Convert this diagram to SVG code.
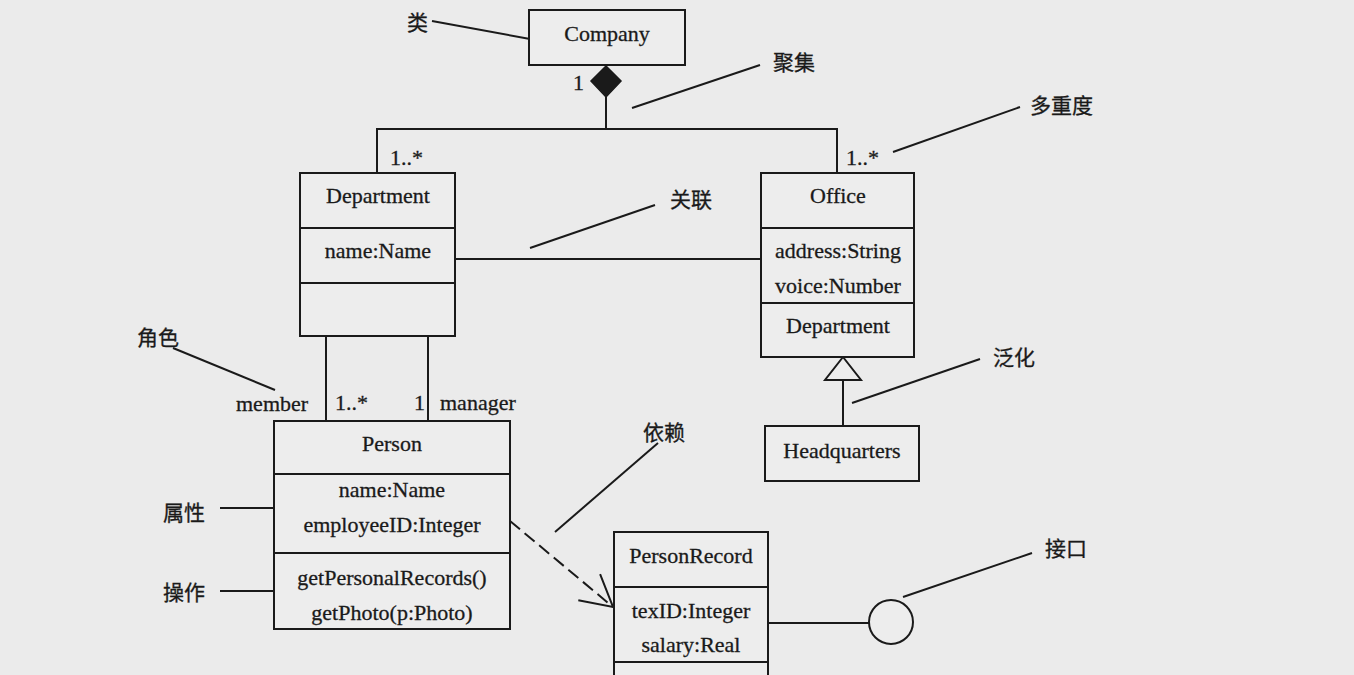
<svg xmlns="http://www.w3.org/2000/svg" width="1354" height="675" viewBox="0 0 1354 675">
<defs>
<style>
.bx{fill:#ededed;stroke:#1a1a1a;stroke-width:2}
.ln{fill:none;stroke:#1a1a1a;stroke-width:2}
.t{font-family:"Liberation Serif","Times New Roman",serif;font-size:22px;fill:#1a1a1a;stroke:#1a1a1a;stroke-width:0.3;text-anchor:middle}
.tl{font-family:"Liberation Serif","Times New Roman",serif;font-size:22px;fill:#1a1a1a;stroke:#1a1a1a;stroke-width:0.3}
.cn{font-family:"Noto Sans CJK SC","Noto Sans",sans-serif;font-size:21px;fill:#1a1a1a;stroke:#1a1a1a;stroke-width:0.3}
</style>
<marker id="open" markerUnits="userSpaceOnUse" markerWidth="40" markerHeight="40" viewBox="-34 -20 38 40" refX="0" refY="0" orient="auto">
<path d="M-31,-17 L0,0 L-31,17" fill="none" stroke="#1a1a1a" stroke-width="2"/>
</marker>
</defs>
<rect width="1354" height="675" fill="#ebebeb"/>

<g id="connectors">
<polygon points="606,66 621,81 606,97 591,81" fill="#1a1a1a" stroke="#1a1a1a" stroke-width="1.5"/>
<polyline class="ln" points="606,97 606,129"/>
<polyline class="ln" points="377,173 377,129 837,129 837,173"/>
<line class="ln" x1="455" y1="259" x2="761" y2="259"/>
<line class="ln" x1="326" y1="336" x2="326" y2="421"/>
<line class="ln" x1="428" y1="336" x2="428" y2="421"/>
<polygon points="843,357 861,380 825,380" fill="#ededed" stroke="#1a1a1a" stroke-width="2"/>
<line class="ln" x1="843" y1="380" x2="843" y2="426"/>
<line class="ln" x1="510" y1="521" x2="613" y2="607" stroke-dasharray="13,6" marker-end="url(#open)"/>
<line class="ln" x1="768" y1="623" x2="869" y2="623"/>
<circle cx="891" cy="622" r="22" class="bx"/>
<text class="tl" x="573" y="90">1</text>
<text class="tl" x="390" y="165">1..*</text>
<text class="tl" x="846" y="165">1..*</text>
<text class="tl" x="236" y="411">member</text>
<text class="tl" x="335" y="410">1..*</text>
<text class="tl" x="414" y="410">1</text>
<text class="tl" x="440" y="410">manager</text>
</g>

<g id="annotations">
<text class="cn" x="407" y="30">类</text>
<line class="ln" x1="432" y1="21" x2="530" y2="39"/>
<text class="cn" x="773" y="70">聚集</text>
<line class="ln" x1="632" y1="108" x2="760" y2="65"/>
<text class="cn" x="1030" y="113">多重度</text>
<line class="ln" x1="893" y1="152" x2="1020" y2="107"/>
<text class="cn" x="670" y="207">关联</text>
<line class="ln" x1="530" y1="248" x2="655" y2="205"/>
<text class="cn" x="993" y="365">泛化</text>
<line class="ln" x1="852" y1="403" x2="980" y2="359"/>
<text class="cn" x="137" y="345">角色</text>
<line class="ln" x1="173" y1="348" x2="275" y2="390"/>
<text class="cn" x="163" y="520">属性</text>
<line class="ln" x1="220" y1="508" x2="274" y2="508"/>
<text class="cn" x="163" y="600">操作</text>
<line class="ln" x1="220" y1="591" x2="274" y2="591"/>
<text class="cn" x="643" y="440">依赖</text>
<line class="ln" x1="555" y1="532" x2="658" y2="443"/>
<text class="cn" x="1045" y="556">接口</text>
<line class="ln" x1="903" y1="597" x2="1032" y2="553"/>
</g>

<g id="Company">
<rect class="bx" x="529" y="10" width="156" height="55"/>
<text class="t" x="607" y="41">Company</text>
</g>

<g id="Department">
<rect class="bx" x="300" y="173" width="155" height="163"/>
<line class="ln" x1="300" y1="228" x2="455" y2="228"/>
<line class="ln" x1="300" y1="283" x2="455" y2="283"/>
<text class="t" x="378" y="203">Department</text>
<text class="t" x="378" y="258">name:Name</text>
</g>

<g id="Office">
<rect class="bx" x="761" y="173" width="153" height="184"/>
<line class="ln" x1="761" y1="228" x2="914" y2="228"/>
<line class="ln" x1="761" y1="303" x2="914" y2="303"/>
<text class="t" x="838" y="203">Office</text>
<text class="t" x="838" y="258">address:String</text>
<text class="t" x="838" y="293">voice:Number</text>
<text class="t" x="838" y="333">Department</text>
</g>

<g id="Headquarters">
<rect class="bx" x="765" y="426" width="154" height="55"/>
<text class="t" x="842" y="458">Headquarters</text>
</g>

<g id="Person">
<rect class="bx" x="274" y="421" width="236" height="208"/>
<line class="ln" x1="274" y1="474" x2="510" y2="474"/>
<line class="ln" x1="274" y1="553" x2="510" y2="553"/>
<text class="t" x="392" y="451">Person</text>
<text class="t" x="392" y="497">name:Name</text>
<text class="t" x="392" y="532">employeeID:Integer</text>
<text class="t" x="392" y="585">getPersonalRecords()</text>
<text class="t" x="392" y="620">getPhoto(p:Photo)</text>
</g>

<g id="PersonRecord">
<rect class="bx" x="614" y="532" width="154" height="160"/>
<line class="ln" x1="614" y1="587" x2="768" y2="587"/>
<line class="ln" x1="614" y1="662" x2="768" y2="662"/>
<text class="t" x="691" y="563">PersonRecord</text>
<text class="t" x="691" y="618">texID:Integer</text>
<text class="t" x="691" y="652">salary:Real</text>
</g>
</svg>
